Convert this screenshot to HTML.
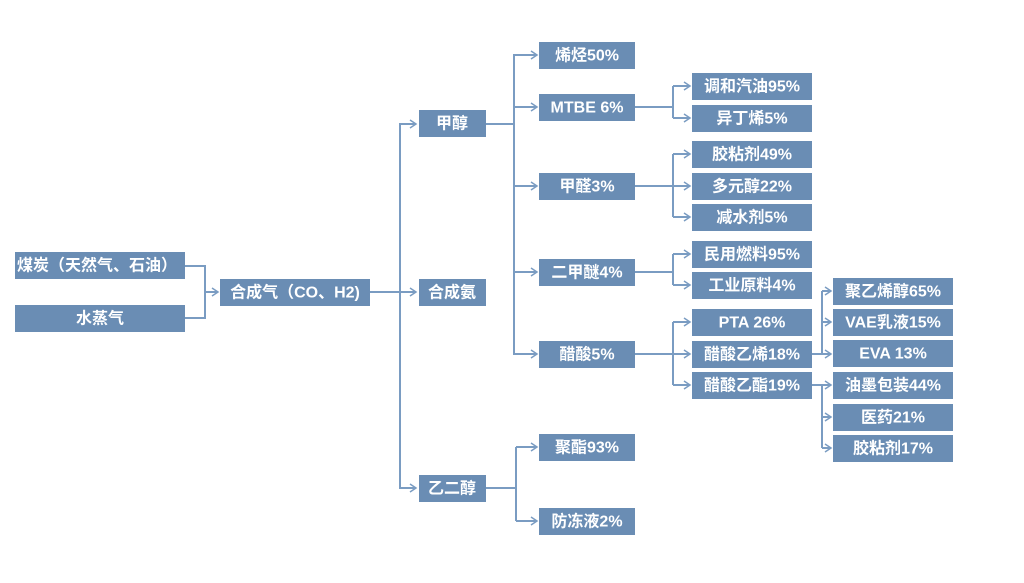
<!DOCTYPE html>
<html><head><meta charset="utf-8"><style>
body{margin:0;background:#fff;width:1024px;height:578px;overflow:hidden}
svg text{font-family:"Liberation Sans","Noto Sans CJK SC",sans-serif;font-weight:bold;font-size:16px;fill:#fff;text-anchor:middle;dominant-baseline:central}
rect{fill:#6a8db4}
</style></head><body>
<svg width="1024" height="578" xmlns="http://www.w3.org/2000/svg">
<defs><marker id="a" markerWidth="10" markerHeight="10" refX="8" refY="5" orient="auto" markerUnits="userSpaceOnUse"><path d="M2,1 L8,5 L2,9" fill="none" stroke="#7a9cc2" stroke-width="1.5"/></marker></defs>
<g fill="none" stroke="#7a9cc2" stroke-width="2">
<path d="M185,266 H205 V318 H185"/><path d="M205,292 H218" marker-end="url(#a)"/>
<path d="M370,292 H416" marker-end="url(#a)"/>
<path d="M416,124 H400 V488 H416" marker-end="url(#a)"/>
<path d="M400,124 H416" marker-end="url(#a)"/>
<path d="M486,124 H514"/>
<path d="M537,55 H514 V354 H537" marker-end="url(#a)"/>
<path d="M514,55 H537" marker-end="url(#a)"/>
<path d="M514,107 H537" marker-end="url(#a)"/>
<path d="M514,186 H537" marker-end="url(#a)"/>
<path d="M514,272 H537" marker-end="url(#a)"/>
<path d="M486,488 H516"/>
<path d="M516,447 V521"/>
<path d="M516,447 H537" marker-end="url(#a)"/>
<path d="M516,521 H537" marker-end="url(#a)"/>
<path d="M635,107 H673"/><path d="M673,86 V118"/>
<path d="M673,86 H690" marker-end="url(#a)"/><path d="M673,118 H690" marker-end="url(#a)"/>
<path d="M635,186 H690" marker-end="url(#a)"/><path d="M673,154 V217"/>
<path d="M673,154 H690" marker-end="url(#a)"/><path d="M673,217 H690" marker-end="url(#a)"/>
<path d="M635,272 H673"/><path d="M673,254 V285"/>
<path d="M673,254 H690" marker-end="url(#a)"/><path d="M673,285 H690" marker-end="url(#a)"/>
<path d="M635,354 H690" marker-end="url(#a)"/><path d="M673,322 V385"/>
<path d="M673,322 H690" marker-end="url(#a)"/><path d="M673,385 H690" marker-end="url(#a)"/>
<path d="M812,354 H831" marker-end="url(#a)"/><path d="M822,291 V354"/>
<path d="M822,291 H831" marker-end="url(#a)"/><path d="M822,322 H831" marker-end="url(#a)"/>
<path d="M812,385 H831" marker-end="url(#a)"/><path d="M822,385 V448"/>
<path d="M822,417 H831" marker-end="url(#a)"/><path d="M822,448 H831" marker-end="url(#a)"/>
</g>
<rect x="15" y="252" width="170" height="27"/><text x="17" y="266" style="text-anchor:start">煤炭（天然气、石油）</text>
<rect x="15" y="305" width="170" height="27"/><text x="100" y="319">水蒸气</text>
<rect x="220" y="279" width="150" height="27"/><text x="295" y="293">合成气（CO、H2)</text>
<rect x="419" y="279" width="67" height="27"/><text x="452" y="293">合成氨</text>
<rect x="419" y="110" width="67" height="27"/><text x="452" y="124">甲醇</text>
<rect x="419" y="475" width="67" height="27"/><text x="452" y="489">乙二醇</text>
<rect x="539" y="42" width="96" height="27"/><text x="587" y="56">烯烃50%</text>
<rect x="539" y="94" width="96" height="27"/><text x="587" y="108">MTBE 6%</text>
<rect x="539" y="173" width="96" height="27"/><text x="587" y="187">甲醛3%</text>
<rect x="539" y="259" width="96" height="27"/><text x="587" y="273">二甲醚4%</text>
<rect x="539" y="341" width="96" height="27"/><text x="587" y="355">醋酸5%</text>
<rect x="539" y="434" width="96" height="27"/><text x="587" y="448">聚酯93%</text>
<rect x="539" y="508" width="96" height="27"/><text x="587" y="522">防冻液2%</text>
<rect x="692" y="73" width="120" height="27"/><text x="752" y="87">调和汽油95%</text>
<rect x="692" y="105" width="120" height="27"/><text x="752" y="119">异丁烯5%</text>
<rect x="692" y="141" width="120" height="27"/><text x="752" y="155">胶粘剂49%</text>
<rect x="692" y="173" width="120" height="27"/><text x="752" y="187">多元醇22%</text>
<rect x="692" y="204" width="120" height="27"/><text x="752" y="218">减水剂5%</text>
<rect x="692" y="241" width="120" height="27"/><text x="752" y="255">民用燃料95%</text>
<rect x="692" y="272" width="120" height="27"/><text x="752" y="286">工业原料4%</text>
<rect x="692" y="309" width="120" height="27"/><text x="752" y="323">PTA 26%</text>
<rect x="692" y="341" width="120" height="27"/><text x="752" y="355">醋酸乙烯18%</text>
<rect x="692" y="372" width="120" height="27"/><text x="752" y="386">醋酸乙酯19%</text>
<rect x="833" y="278" width="120" height="27"/><text x="893" y="292">聚乙烯醇65%</text>
<rect x="833" y="309" width="120" height="27"/><text x="893" y="323">VAE乳液15%</text>
<rect x="833" y="340" width="120" height="27"/><text x="893" y="354">EVA 13%</text>
<rect x="833" y="372" width="120" height="27"/><text x="893" y="386">油墨包装44%</text>
<rect x="833" y="404" width="120" height="27"/><text x="893" y="418">医药21%</text>
<rect x="833" y="435" width="120" height="27"/><text x="893" y="449">胶粘剂17%</text>
</svg>
</body></html>
